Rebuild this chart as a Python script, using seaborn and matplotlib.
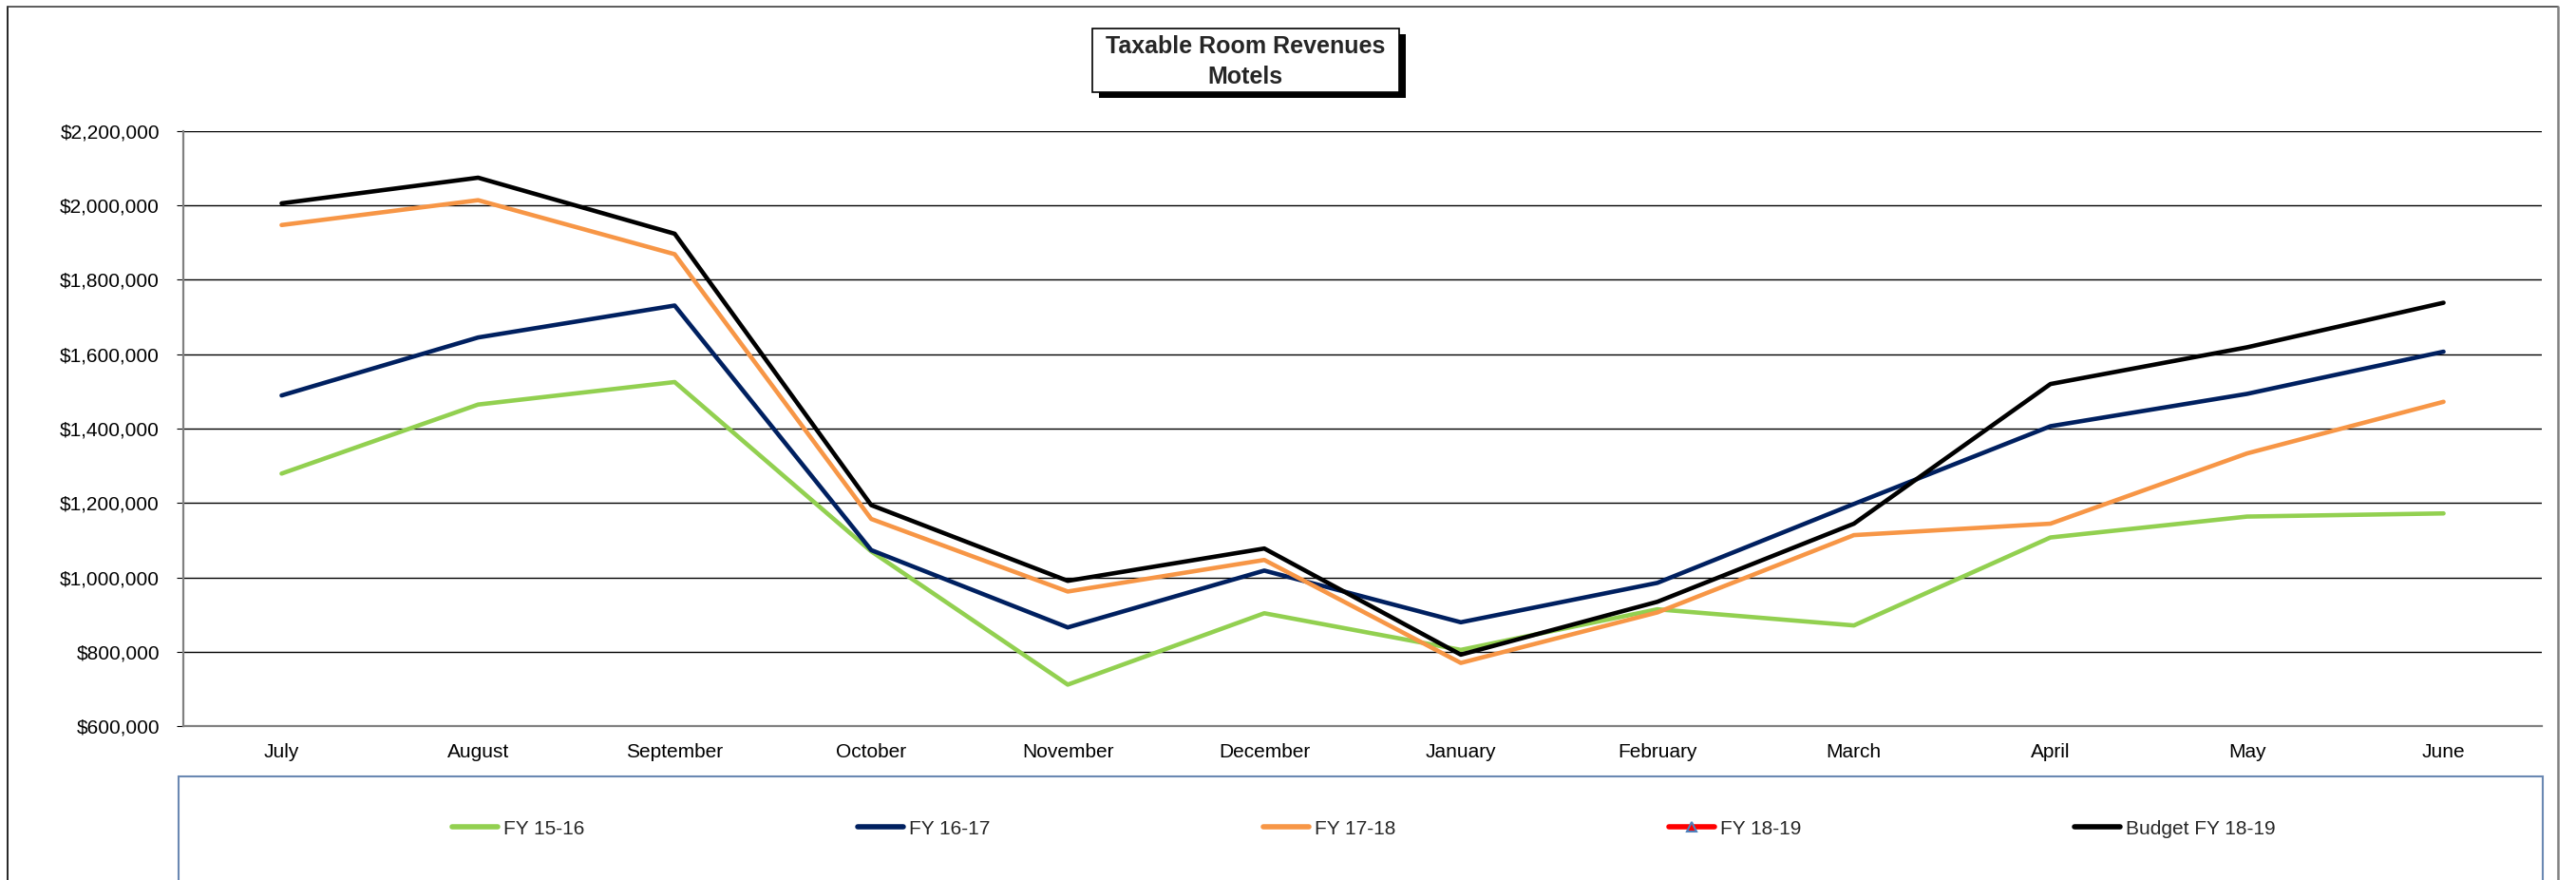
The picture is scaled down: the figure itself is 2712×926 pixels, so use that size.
import numpy as np
import pandas as pd
import matplotlib
matplotlib.use("Agg")
import matplotlib.pyplot as plt
import seaborn as sns
from matplotlib.lines import Line2D
from matplotlib.patches import Rectangle
from matplotlib.ticker import FuncFormatter, MultipleLocator

# ---------------- data ----------------
months = ["July", "August", "September", "October", "November", "December",
          "January", "February", "March", "April", "May", "June"]
fy1516 = [1279000, 1464700, 1525200, 1070000, 711400, 903400,
          804800, 914000, 870600, 1107200, 1163400, 1171900]
fy1617 = [1489100, 1645100, 1731000, 1073200, 865300, 1018100,
          879100, 985100, 1197300, 1406400, 1493400, 1606900]
fy1718 = [1947500, 2014300, 1869000, 1157000, 961800, 1046700,
          769800, 905600, 1113500, 1144300, 1333200, 1472100]
fy1819 = [np.nan] * 12  # no values reported yet
budget1819 = [2005800, 2074800, 1924100, 1194200, 990500, 1077500,
              792000, 934200, 1144300, 1519900, 1618600, 1738500]
series_names = ["FY 15-16", "FY 16-17", "FY 17-18", "FY 18-19", "Budget FY 18-19"]
title_lines = ["Taxable Room Revenues", "Motels"]

# ---------------- style ----------------
sns.set_style("white")
plt.rcParams["font.family"] = ["Liberation Sans", "DejaVu Sans"]

W, H = 2712, 926
fig = plt.figure(figsize=(W / 100, H / 100), dpi=100)
fig.patch.set_facecolor("white")

def fx(px):
    return px / W

def fy(py):
    return 1 - py / H

ax = fig.add_axes([fx(193), fy(764), fx(2676 - 193), (764 - 138) / H])

colors = {"FY 15-16": "#92D050", "FY 16-17": "#002060", "FY 17-18": "#F79646",
          "FY 18-19": "#FF0000", "Budget FY 18-19": "#000000"}
LW = 3.3

handles = []
for name, vals in [("FY 15-16", fy1516), ("FY 16-17", fy1617), ("FY 17-18", fy1718)]:
    sns.lineplot(x=months, y=vals, ax=ax, color=colors[name], linewidth=LW,
                 sort=False, legend=False, zorder=3)
    ln = ax.lines[-1]
    ln.set_solid_joinstyle("round")
    handles.append(ln)

# FY 18-19 (no data yet) – plotted from its (empty) array so it appears in the legend
ln1819, = ax.plot(np.arange(len(months)), fy1819, color=colors["FY 18-19"], linewidth=LW,
                  marker="^", markersize=7, markerfacecolor="#FF0000",
                  markeredgecolor="#4F81BD", markeredgewidth=1.5, zorder=3)
handles.append(ln1819)

sns.lineplot(x=months, y=budget1819, ax=ax, color=colors["Budget FY 18-19"], linewidth=LW,
             sort=False, legend=False, zorder=4)
lnb = ax.lines[-1]
lnb.set_solid_joinstyle("round")
handles.append(lnb)

if ax.get_legend() is not None:
    ax.get_legend().remove()

# axes formatting
ax.set_xlim(-0.5, 11.5)
ax.set_ylim(600000, 2200000)
ax.set_xlabel("")
ax.set_ylabel("")
ax.yaxis.set_major_locator(MultipleLocator(200000))
ax.yaxis.set_major_formatter(FuncFormatter(lambda v, p: f"${v:,.0f}"))
ax.set_xticks(range(len(months)))
ax.set_xticklabels(months)
ax.set_xticks(np.arange(-0.5, len(months), 1), minor=True)

ax.tick_params(axis="x", which="major", length=0, pad=13, labelsize=15, labelcolor="black")
ax.tick_params(axis="x", which="minor", length=5, width=1, color="black", direction="out")
ax.tick_params(axis="y", which="major", length=5, width=0.8, color="black",
               direction="out", pad=13, labelsize=15, labelcolor="black")
ax.yaxis.set_tick_params(left=True)

ax.grid(axis="y", color="black", linewidth=1.0, zorder=1)
ax.grid(axis="x", visible=False)
ax.set_axisbelow(True)
for s in ["top", "right"]:
    ax.spines[s].set_visible(False)
for s in ["left", "bottom"]:
    ax.spines[s].set_color("#808080")
    ax.spines[s].set_linewidth(1.6)
    ax.spines[s].set_zorder(2.5)

# outer chart frame (top, left, right; bottom cut off)
fig.add_artist(Line2D([fx(8), fx(8)], [fy(7), 0], color="black", linewidth=1.2,
                      transform=fig.transFigure))
fig.add_artist(Line2D([fx(8), fx(2693)], [fy(7), fy(7)], color="#404040", linewidth=1.2,
                      transform=fig.transFigure))
fig.add_artist(Line2D([fx(2693), fx(2693)], [fy(7), 0], color="#808080", linewidth=1.8,
                      transform=fig.transFigure))

# title box with shadow
bx0, by0, bx1, by1 = 1150, 30, 1473, 97
fig.add_artist(Rectangle((fx(bx0 + 7), fy(by1 + 6)), fx(bx1 - bx0), (by1 - by0) / H,
                         transform=fig.transFigure, facecolor="black", edgecolor="none",
                         zorder=5))
fig.add_artist(Rectangle((fx(bx0), fy(by1)), fx(bx1 - bx0), (by1 - by0) / H,
                         transform=fig.transFigure, facecolor="white", edgecolor="black",
                         linewidth=1.2, zorder=6))
fig.text(fx(1311), fy(49), title_lines[0], ha="center", va="center", fontsize=18,
         fontweight="bold", zorder=7)
fig.text(fx(1311), fy(81), title_lines[1], ha="center", va="center", fontsize=18,
         fontweight="bold", zorder=7)

# legend box
fig.add_artist(Rectangle((fx(188), fy(930)), fx(2677 - 188), (930 - 817) / H,
                         transform=fig.transFigure, facecolor="white", edgecolor="#6A88B2",
                         linewidth=1.5, zorder=1))
leg = fig.legend(handles, series_names, loc="center left",
                 bbox_to_anchor=(fx(476), fy(872)), ncol=5, frameon=False, fontsize=15,
                 handlelength=2.3, handletextpad=0.3, columnspacing=13.8,
                 borderaxespad=0, borderpad=0)
for lh in leg.get_lines():
    lh.set_linewidth(4)
leg.set_zorder(8)

fig.savefig("out.png", dpi=100, facecolor="white")
